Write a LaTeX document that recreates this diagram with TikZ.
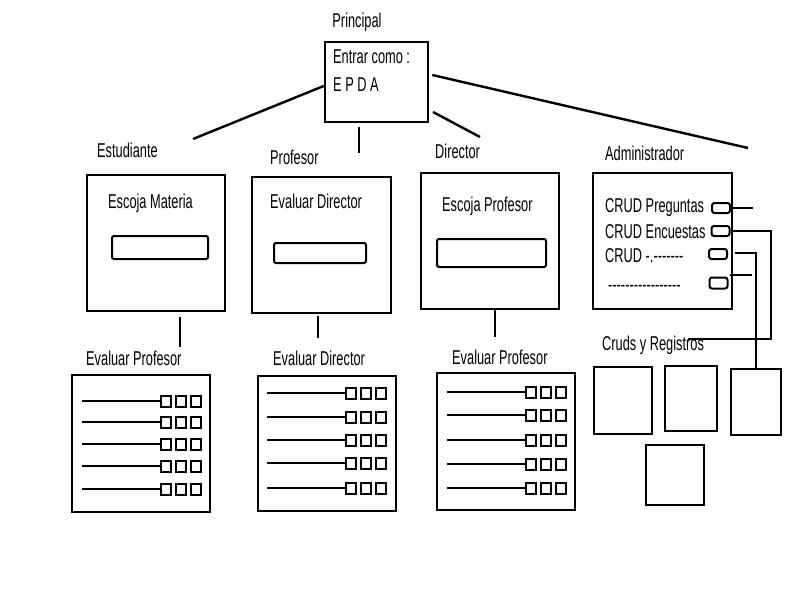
\documentclass[tikz,border=0pt]{standalone}
\usepackage{fontspec}
\setmainfont{Liberation Sans}[FakeStretch=0.64]
\begin{document}
\begin{tikzpicture}[x=1pt,y=-1pt,line width=2.4pt,
  frame/.style={draw,line width=2.6pt,inner sep=0pt,minimum width=#1},
  field/.style={draw,line width=2pt,rounded corners=2pt,inner sep=0pt},
  tiny/.style={draw,line width=2pt,rounded corners=2.5pt,inner sep=0pt,minimum width=18pt,minimum height=10pt},
  sq/.style={draw,line width=2pt,inner sep=0pt,minimum width=10.5pt,minimum height=11pt},
  lbl/.style={inner sep=0pt,anchor=west,font=\fontsize{20}{22}\selectfont},
  link/.style={line width=2.4pt}]
\useasboundingbox[fill=white] (0,0) rectangle (800,600);

% Principal
\node[lbl,anchor=center] (tprinc) at (357,22) {Principal};
\node[frame=103pt,minimum height=80pt] (princ) at (376.5,82) {};
\node[lbl] (tentrar) at (332,57) {Entrar como :};
\node[lbl] (tepda) at (332,85) {E P D A};

% role labels
\node[lbl] (test) at (96,150) {Estudiante};
\node[lbl] (tprof) at (269,157) {Profesor};
\node[lbl] (tdir) at (434,151) {Director};
\node[lbl] (tadm) at (604,153) {Administrador};

% role boxes
\node[frame=138pt,minimum height=136pt] (est) at (156,243) {};
\node[frame=139pt,minimum height=136pt] (prof) at (321.5,245) {};
\node[frame=138pt,minimum height=136pt] (dir) at (490,241) {};
\node[frame=139pt,minimum height=136pt] (adm) at (662.5,241) {};

\node[lbl] (tesc1) at (107,203) {Escoja Materia};
\node[lbl] (tevd1) at (269,201) {Evaluar Director};
\node[lbl] (tesc2) at (441,206) {Escoja Profesor};

\node[field,minimum width=96pt,minimum height=23pt] (in1) at (160,247.5) {};
\node[field,minimum width=92pt,minimum height=20pt] (in2) at (320,253) {};
\node[field,minimum width=109pt,minimum height=28pt] (in3) at (491.5,253) {};

% admin contents
\node[lbl] (tc1) at (604,208) {CRUD Preguntas};
\node[lbl] (tc2) at (604,232) {CRUD Encuestas};
\node[lbl] (tc3) at (604,256) {CRUD -.-{}-{}-{}-{}-{}-{}-};
\node[lbl] (tc4) at (607,288) {-{}-{}-{}-{}-{}-{}-{}-{}-{}-{}-{}-{}-{}-{}-{}-{}-};
\node[tiny] (s1) at (721,208) {};
\node[tiny] (s2) at (720.5,231) {};
\node[tiny] (s3) at (718,254) {};
\node[tiny,minimum height=11pt] (s4) at (718.5,283) {};

% connectors from Principal
\coordinate (pe) at (193,139);
\draw[link] (pe) -- ([yshift=-4pt]princ.west);
\coordinate (pv1) at (359,127);
\coordinate (pv2) at (359,153);
\draw[link] (pv1) -- (pv2);
\coordinate (pd1) at (433,112);
\coordinate (pd2) at (480,137);
\draw[link] (pd1) -- (pd2);
\coordinate (pa) at (748,148);
\draw[link] ([yshift=7pt,xshift=3pt]princ.east) -- (pa);

% connectors below role boxes
\coordinate (b1a) at (180,317); \coordinate (b1b) at (180,347);
\draw[link] (b1a) -- (b1b);
\coordinate (b2a) at (318,316); \coordinate (b2b) at (318,338);
\draw[link] (b2a) -- (b2b);
\coordinate (b3a) at (495,310); \coordinate (b3b) at (495,337);
\draw[link] (b3a) -- (b3b);

% form labels
\node[lbl] (tf1) at (85,358) {Evaluar Profesor};
\node[lbl] (tf2) at (272,358) {Evaluar Director};
\node[lbl] (tf3) at (451,357) {Evaluar Profesor};

% forms
\node[frame=138pt,minimum height=137pt] (f1) at (141,443.5) {};
\node[frame=138pt,minimum height=135pt] (f2) at (327,443.5) {};
\node[frame=138pt,minimum height=137pt] (f3) at (506,441.5) {};

\foreach \y [count=\i] in {401,422,444,466,489}{
  \node[sq] (fa\i a) at (166,\y) {};
  \node[sq] (fa\i b) at (181,\y) {};
  \node[sq] (fa\i c) at (196,\y) {};
  \coordinate (fa\i s) at (82,\y);
  \draw[link] (fa\i s) -- (fa\i a.west);
}
\foreach \y [count=\i] in {393,417,440,463,488}{
  \node[sq] (fb\i a) at (351,\y) {};
  \node[sq] (fb\i b) at (366,\y) {};
  \node[sq] (fb\i c) at (381,\y) {};
  \coordinate (fb\i s) at (267,\y);
  \draw[link] (fb\i s) -- (fb\i a.west);
}
\foreach \y [count=\i] in {392,415,440,464,488}{
  \node[sq] (fc\i a) at (531,\y) {};
  \node[sq] (fc\i b) at (546,\y) {};
  \node[sq] (fc\i c) at (561,\y) {};
  \coordinate (fc\i s) at (447,\y);
  \draw[link] (fc\i s) -- (fc\i a.west);
}

% Cruds y Registros
\node[lbl] (tcr) at (601,345) {Cruds y Registros};
\node[frame=58pt,minimum height=67pt] (c1) at (623,400.5) {};
\node[frame=52pt,minimum height=65pt] (c2) at (691,398.5) {};
\node[frame=50pt,minimum height=66pt] (c3) at (756,402) {};
\node[frame=58pt,minimum height=60pt] (c4) at (675,475) {};

% admin connectors
\coordinate (a1) at (753,208);
\draw[link] (s1.east) -- (a1);
\coordinate (a2) at (771,231);
\coordinate (a2b) at (771,339);
\coordinate (a2c) at (688,339);
\draw[link] (s2.east) -- (a2) -- (a2b) -- (a2c);
\coordinate (a3) at (735,253);
\draw[link] (a3) -- (c3.north |- a3) -- (c3.north);
\coordinate (a4a) at (730,275);
\coordinate (a4b) at (752,275);
\draw[link] (a4a) -- (a4b);
\end{tikzpicture}
\end{document}
